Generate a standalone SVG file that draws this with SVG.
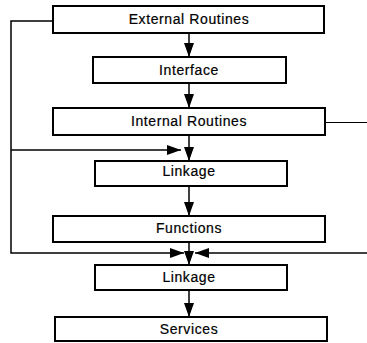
<svg xmlns="http://www.w3.org/2000/svg" width="367" height="343" viewBox="0 0 367 343">
  <style>
    .box { fill: #fff; stroke: #000; stroke-width: 2; }
    .lbl { font-family: "Liberation Sans", Arial, sans-serif; font-size: 14px; letter-spacing: 0.6px; fill: #000; stroke: #000; stroke-width: 0.2; text-anchor: middle; }
    .conn { fill: none; stroke: #000; stroke-width: 1.5; }
    .thin { fill: none; stroke: #000; stroke-width: 1; }
  </style>
  <defs>
    <marker id="arrow" viewBox="0 0 14 10" refX="14" refY="5" markerWidth="14" markerHeight="10" markerUnits="userSpaceOnUse" orient="auto">
      <path d="M0,0 L14,5 L0,10 Z" fill="#000"/>
    </marker>
  </defs>

  <g id="connectors">
    <line class="conn" x1="189" y1="33" x2="189" y2="57" marker-end="url(#arrow)"/>
    <line class="conn" x1="189" y1="83" x2="189" y2="108" marker-end="url(#arrow)"/>
    <line class="conn" x1="189" y1="135" x2="189" y2="161" marker-end="url(#arrow)"/>
    <line class="conn" x1="189" y1="186" x2="189" y2="216" marker-end="url(#arrow)"/>
    <line class="conn" x1="189" y1="242" x2="189" y2="265" marker-end="url(#arrow)"/>
    <line class="conn" x1="189" y1="290" x2="189" y2="317" marker-end="url(#arrow)"/>
    <!-- bypass from External Routines down the left side -->
    <polyline class="conn" points="53,21 11,21 11,253 184,253" marker-end="url(#arrow)"/>
    <line class="conn" x1="11" y1="150" x2="181" y2="150" marker-end="url(#arrow)"/>
    <!-- lines leaving / entering from the right -->
    <line class="thin" x1="325" y1="122.5" x2="367" y2="122.5"/>
    <line class="conn" x1="367" y1="253" x2="195" y2="253" marker-end="url(#arrow)"/>
  </g>

  <g id="external-routines">
    <rect class="box" x="53" y="6" width="271" height="27"/>
    <text class="lbl" x="189" y="24">External Routines</text>
  </g>
  <g id="interface">
    <rect class="box" x="93" y="57" width="193" height="26"/>
    <text class="lbl" x="189" y="75">Interface</text>
  </g>
  <g id="internal-routines">
    <rect class="box" x="53" y="108" width="272" height="27"/>
    <text class="lbl" x="189" y="126">Internal Routines</text>
  </g>
  <g id="linkage-1">
    <rect class="box" x="95" y="161" width="192" height="25"/>
    <text class="lbl" x="189" y="176">Linkage</text>
  </g>
  <g id="functions">
    <rect class="box" x="53" y="216" width="272" height="26"/>
    <text class="lbl" x="189" y="233">Functions</text>
  </g>
  <g id="linkage-2">
    <rect class="box" x="95" y="265" width="192" height="25"/>
    <text class="lbl" x="189" y="282">Linkage</text>
  </g>
  <g id="services">
    <rect class="box" x="55" y="317" width="272" height="24"/>
    <text class="lbl" x="189" y="334">Services</text>
  </g>
</svg>
